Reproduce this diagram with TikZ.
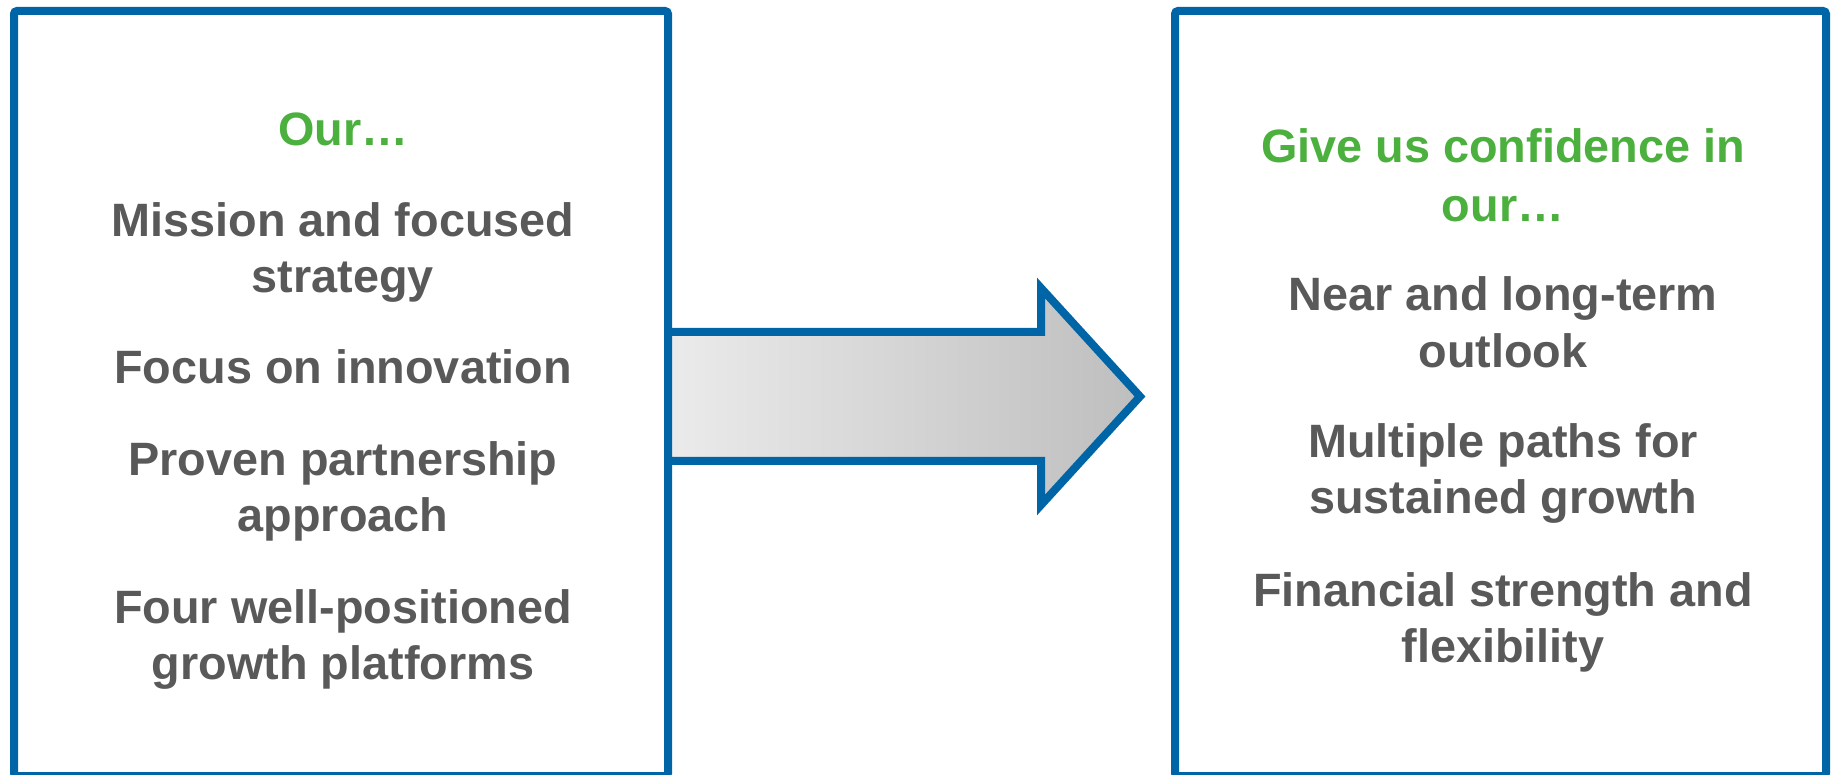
\documentclass[tikz,border=0pt]{standalone}
\usepackage{fontspec}
\setmainfont{Liberation Sans}
\usetikzlibrary{positioning}
\definecolor{frameblue}{HTML}{0065A6}
\definecolor{leadgreen}{HTML}{4BB03D}
\definecolor{bodygray}{HTML}{595959}
\definecolor{shadelight}{HTML}{EBEBEB}
\definecolor{shadedark}{HTML}{BEBEBE}

\begin{document}
\begin{tikzpicture}[x=1pt, y=1pt]
            \tikzstyle{panel} = [draw=frameblue, line width=8pt, rounded corners=3pt, inner sep=0pt]
            \tikzstyle{item} = [font=\fontsize{46.8}{56}\selectfont\bfseries, text=bodygray, text height=34pt, text depth=10pt, inner sep=0pt]
            \tikzstyle{lead} = [item, text=leadgreen]
            \tikzstyle{bigarrow} = [draw=frameblue, line width=8pt, left color=shadelight, right color=shadedark]

            \useasboundingbox (0,0) rectangle (1837,774);

            % Boxes
            \node[panel, minimum width=654pt, minimum height=765pt] (ourbox) at (341,380.5) {};
            \node[panel, minimum width=651pt, minimum height=765pt] (confbox) at (1500.5,380.5) {};

            % Left column
            \node[lead] (our) at (343,640) {Our…};
            \node[item] (mission) [below=46pt of our] {Mission and focused};
            \node[item] (strategy) [below=12pt of mission] {strategy};
            \node[item] (innovation) [below=46pt of strategy] {Focus on innovation};
            \node[item] (partner) [below=48pt of innovation] {Proven partnership};
            \node[item] (approach) [below=12pt of partner] {approach};
            \node[item] (four) [below=47pt of approach] {Four well-positioned};
            \node[item] (platforms) [below=12pt of four] {growth platforms};

            % Right column
            \node[lead] (give) at (1503,623) {Give us confidence in};
            \node[lead] (ourtoo) [below=14pt of give] {our…};
            \node[item] (near) [below=45pt of ourtoo] {Near and long-term};
            \node[item] (outlook) [below=12pt of near] {outlook};
            \node[item] (paths) [below=46pt of outlook] {Multiple paths for};
            \node[item] (growth) [below=12pt of paths] {sustained growth};
            \node[item] (finance) [below=48pt of growth] {Financial strength and};
            \node[item] (flex) [below=12pt of finance] {flexibility};

            % Arrow
            \coordinate (tail) at (668,377.5);
            \coordinate (tip) at (1140,377.5);
            \draw[bigarrow] ([yshift=64.5pt]tail) -- ++(373,0) -- ++(0,44) -- (tip)
                -- ++(-99,-108.5) -- ++(0,44) -- ([yshift=-64.5pt]tail) -- cycle;

        \end{tikzpicture}
\end{document}
